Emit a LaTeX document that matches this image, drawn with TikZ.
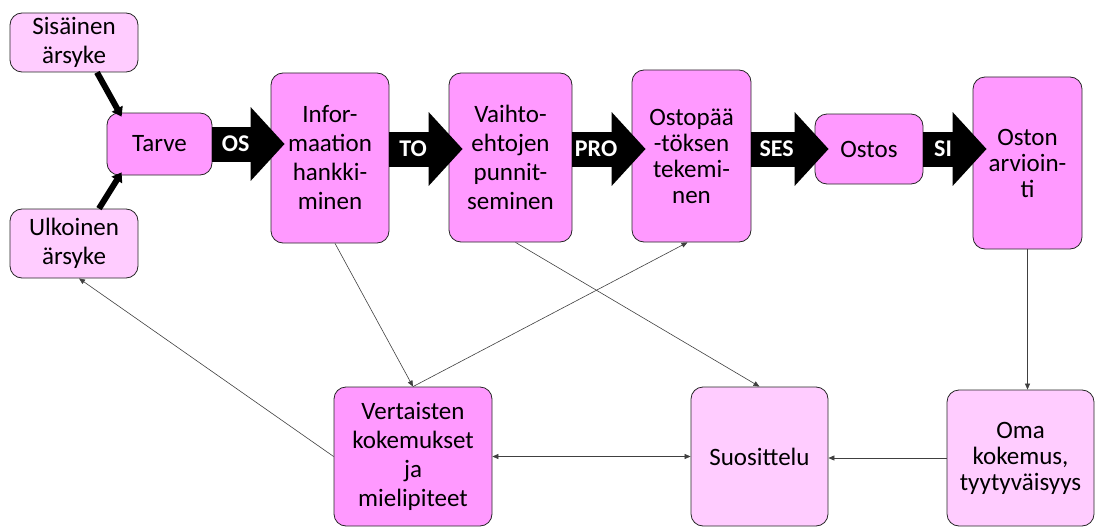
\documentclass[tikz,border=0pt]{standalone}
\usepackage{fontspec}
\setmainfont{Carlito}
\usetikzlibrary{arrows.meta,calc}
\definecolor{pinkdark}{HTML}{FF99FF}
\definecolor{pinklight}{HTML}{FFCCFF}

\begin{document}
\begin{tikzpicture}[x=1pt,y=-1pt,
	box/.style={draw=black!85,line width=0.8pt,rounded corners=12pt,fill=#1,align=center,inner sep=0pt,font=\fontsize{25}{29}\selectfont},
	box/.default=pinkdark,
	tight/.style={font=\fontsize{25}{26}\selectfont},
	bigarrow/.style={line width=35pt,-{Triangle[length=34pt,width=72pt]},shorten >=-14pt},
	arrowlabel/.style={text=white,font=\bfseries\fontsize{24}{26}\selectfont,pos=0.4},
	stimarrow/.style={line width=6pt,-{Triangle[length=9pt,width=12pt]}},
	thinarrow/.style={draw=black!75,line width=0.6pt,-{Triangle[length=6pt,width=5pt]}}]
		\useasboundingbox (0,0) rectangle (1095,527);
		% top row
		\node[box=pinklight,minimum width=128pt,minimum height=59pt] (sis) at (74,42.5) {Sisäinen\\ärsyke};
		\node[box=pinklight,minimum width=128pt,minimum height=69pt] (ulk) at (74,243.5) {Ulkoinen\\ärsyke};
		\node[box,minimum width=105pt,minimum height=62pt] (tarve) at (159.5,144) {Tarve};
		\node[box,minimum width=118pt,minimum height=170pt] (info) at (330,158) {Infor-\\maation\\hankki-\\minen};
		\node[box,minimum width=123pt,minimum height=169pt] (vaihto) at (510.5,157.5) {Vaihto-\\ehtojen\\punnit-\\seminen};
		\node[box,tight,minimum width=119pt,minimum height=172pt] (osto) at (691.5,156) {Ostopää\\-töksen\\tekemi-\\nen};
		\node[box,minimum width=108pt,minimum height=70pt] (ostos) at (869,149) {Ostos};
		\node[box,tight,minimum width=109pt,minimum height=172pt] (arv) at (1027.5,163) {Oston\\arvioin-\\ti};
		% bottom row
		\node[box,minimum width=158pt,minimum height=139pt] (vert) at (413,456.5) {Vertaisten\\kokemukset\\ja\\mielipiteet};
		\node[box=pinklight,minimum width=137pt,minimum height=139pt] (suos) at (759.5,456.5) {Suosittelu};
		\node[box=pinklight,tight,minimum width=147pt,minimum height=136pt] (oma) at (1020.5,458) {Oma\\kokemus,\\tyytyväisyys};
		% stimuli
		\draw[stimarrow] ([xshift=23pt]sis.south) -- ([xshift=15pt,yshift=-4pt]tarve.north west);
		\draw[stimarrow] ([xshift=25pt]ulk.north) -- ([xshift=15pt,yshift=3pt]tarve.south west);
		% process arrows
		\draw[bigarrow] (tarve.east) -- (tarve.east -| info.west) node[arrowlabel] {OS};
		\draw[bigarrow] (info.east |- ostos.west) -- (vaihto.west |- ostos.west) node[arrowlabel] {TO};
		\draw[bigarrow] (vaihto.east |- ostos.west) -- (osto.west |- ostos.west) node[arrowlabel] {PRO};
		\draw[bigarrow] (osto.east |- ostos.west) -- (ostos.west) node[arrowlabel] {SES};
		\draw[bigarrow] (ostos.east) -- (ostos.east -| arv.west) node[arrowlabel] {SI};
		% feedback
		\draw[thinarrow] ([xshift=5pt]info.south) -- (vert.north);
		\draw[thinarrow] (vert.north) -- ([xshift=-4pt]osto.south);
		\draw[thinarrow] ([xshift=5pt]vaihto.south) -- (suos.north);
		\draw[thinarrow] (arv.south) -- (arv.south |- oma.north);
		\draw[thinarrow] (oma.west) -- (oma.west -| suos.east);
		\draw[thinarrow,{Triangle[length=6pt,width=5pt]}-{Triangle[length=6pt,width=5pt]}] (vert.east) -- (suos.west);
		\draw[thinarrow] (vert.west) -- ([xshift=5pt]ulk.south);
\end{tikzpicture}
\end{document}
